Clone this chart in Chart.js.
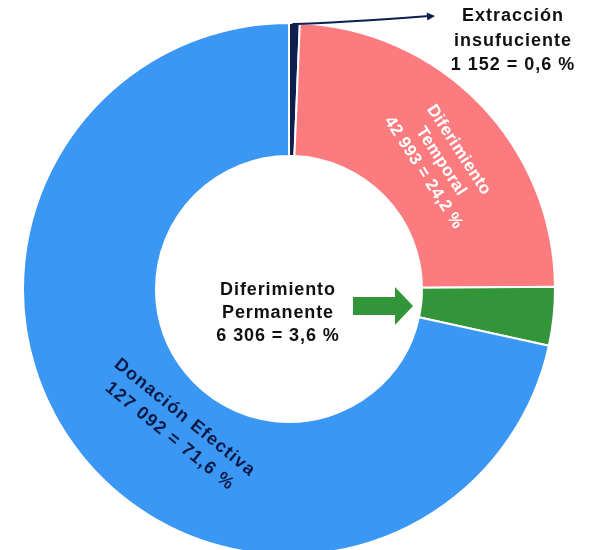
<!DOCTYPE html>
<html><head><meta charset="utf-8">
<script src="https://cdn.jsdelivr.net/npm/chart.js@4.4.1/dist/chart.umd.min.js"></script>
<style>html,body{margin:0;padding:0;background:#fff;overflow:hidden;width:595px;height:550px}canvas{display:block}</style>
</head><body>
<canvas id="c" width="595" height="556"></canvas>
<script>
const categories = ['Extracción insufuciente', 'Diferimiento Temporal', 'Diferimiento Permanente', 'Donación Efectiva'];
const nameLines = [['Extracción', 'insufuciente'], ['Diferimiento', 'Temporal'], ['Diferimiento', 'Permanente'], ['Donación Efectiva']];
const counts = [1152, 42993, 6306, 127092];
const countLabels = ['1 152', '42 993', '6 306', '127 092'];
const percentLabels = ['0,6 %', '24,2 %', '3,6 %', '71,6 %'];
const sliceColors = ['#0D1E50', '#FC7B7F', '#32953A', '#3A97F4'];

const labelLines = nameLines.map((n, i) => n.concat([countLabels[i] + ' = ' + percentLabels[i]]));

function drawLines(ctx, lines, x, y, rot, font, color, lh, spacing) {
  ctx.save();
  ctx.translate(x, y);
  ctx.rotate(rot * Math.PI / 180);
  ctx.font = font;
  ctx.fillStyle = color;
  ctx.textAlign = 'center';
  ctx.textBaseline = 'middle';
  ctx.letterSpacing = spacing;
  const n = lines.length;
  lines.forEach((t, i) => ctx.fillText(t, 0, (i - (n - 1) / 2) * lh));
  ctx.restore();
}

const labelPlugin = {
  id: 'sliceLabels',
  afterDatasetsDraw(chart) {
    const ctx = chart.ctx;
    const arcs = chart.getDatasetMeta(0).data;
    const a0 = arcs[0];
    const cx = a0.x, cy = a0.y, R = a0.outerRadius, r = a0.innerRadius;
    const polar = (deg, rad) => [cx + rad * Math.sin(deg * Math.PI / 180), cy - rad * Math.cos(deg * Math.PI / 180)];

    // Diferimiento Temporal (white, rotated along ring)
    let [px, py] = polar(50, (R + r) / 2 - 1);
    drawLines(ctx, labelLines[1], px, py, 57, 'bold 17px "Liberation Sans", Arial, sans-serif', '#ffffff', 21, '0.4px');

    // Donación Efectiva
    [px, py] = polar(219, (R + r) / 2 - 22);
    drawLines(ctx, labelLines[3], px, py, 39, 'bold 18px "Liberation Sans", Arial, sans-serif', '#0B1A45', 24, '1.2px');

    // Diferimiento Permanente (center text + arrow)
    drawLines(ctx, labelLines[2], cx - 11, cy + 24, 0, 'bold 18px "Liberation Sans", Arial, sans-serif', '#111111', 23, '0.9px');
    const g = arcs[2];
    const tipX = cx + r - 9, tipY = cy + 17;
    ctx.save();
    ctx.fillStyle = g.options.backgroundColor;
    ctx.beginPath();
    ctx.moveTo(tipX - 60, tipY - 9);
    ctx.lineTo(tipX - 18, tipY - 9);
    ctx.lineTo(tipX - 18, tipY - 19);
    ctx.lineTo(tipX, tipY);
    ctx.lineTo(tipX - 18, tipY + 19);
    ctx.lineTo(tipX - 18, tipY + 9);
    ctx.lineTo(tipX - 60, tipY + 9);
    ctx.closePath();
    ctx.fill();
    ctx.restore();

    // Extracción insuficiente: leader line with arrow
    const e = arcs[0];
    const midA = (e.startAngle + e.endAngle) / 2;
    const sx = cx + (R - 1) * Math.cos(midA), sy = cy + (R - 1) * Math.sin(midA);
    const ex = cx + 146, ey = cy - 273;
    ctx.save();
    ctx.strokeStyle = sliceColors[0];
    ctx.fillStyle = sliceColors[0];
    ctx.lineWidth = 2;
    ctx.beginPath();
    ctx.moveTo(sx - 2, sy);
    ctx.quadraticCurveTo(sx + 40, sy - 1, ex - 6, ey);
    ctx.stroke();
    const ang = Math.atan2(ey - (sy - 1), ex - (sx + 40));
    ctx.translate(ex, ey);
    ctx.rotate(ang);
    ctx.beginPath();
    ctx.moveTo(0, 0);
    ctx.lineTo(-8, -4);
    ctx.lineTo(-8, 4);
    ctx.closePath();
    ctx.fill();
    ctx.restore();
    drawLines(ctx, labelLines[0], cx + 224, cy - 248, 0, 'bold 18px "Liberation Sans", Arial, sans-serif', '#111111', 24.5, '1px');
  }
};

new Chart(document.getElementById('c'), {
  type: 'doughnut',
  data: {
    labels: categories,
    datasets: [{
      data: counts,
      backgroundColor: sliceColors,
      borderColor: '#ffffff',
      borderWidth: 2
    }]
  },
  options: {
    responsive: false,
    animation: false,
    cutout: '50%',
    layout: { padding: { top: 22, bottom: 0, left: 0, right: 17 } },
    plugins: { legend: { display: false }, tooltip: { enabled: false } }
  },
  plugins: [labelPlugin]
});
</script>
</body></html>
